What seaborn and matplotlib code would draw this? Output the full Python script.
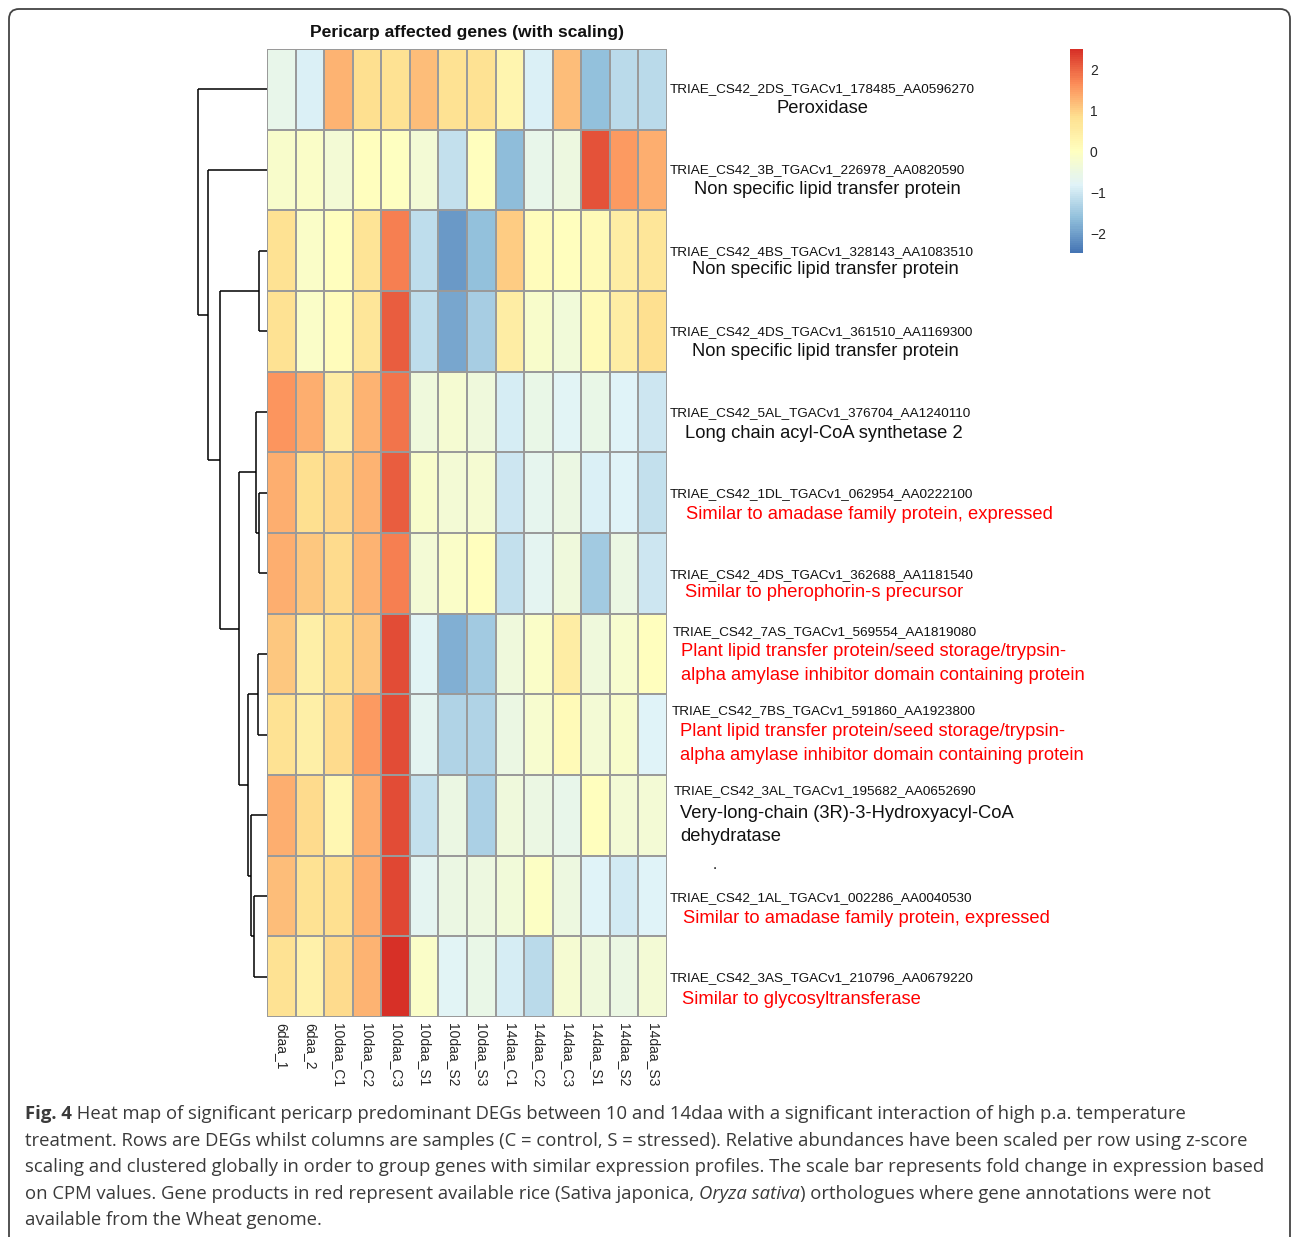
import numpy as np
import pandas as pd
import matplotlib
matplotlib.use("Agg")
import matplotlib.pyplot as plt
import seaborn as sns
from matplotlib.colors import LinearSegmentedColormap
from matplotlib.patches import FancyBboxPatch
from matplotlib.transforms import IdentityTransform

# ---------------- data ----------------
samples = ["6daa_1", "6daa_2", "10daa_C1", "10daa_C2", "10daa_C3", "10daa_S1", "10daa_S2",
           "10daa_S3", "14daa_C1", "14daa_C2", "14daa_C3", "14daa_S1", "14daa_S2", "14daa_S3"]

gene_ids = [
    "TRIAE_CS42_2DS_TGACv1_178485_AA0596270",
    "TRIAE_CS42_3B_TGACv1_226978_AA0820590",
    "TRIAE_CS42_4BS_TGACv1_328143_AA1083510",
    "TRIAE_CS42_4DS_TGACv1_361510_AA1169300",
    "TRIAE_CS42_5AL_TGACv1_376704_AA1240110",
    "TRIAE_CS42_1DL_TGACv1_062954_AA0222100",
    "TRIAE_CS42_4DS_TGACv1_362688_AA1181540",
    "TRIAE_CS42_7AS_TGACv1_569554_AA1819080",
    "TRIAE_CS42_7BS_TGACv1_591860_AA1923800",
    "TRIAE_CS42_3AL_TGACv1_195682_AA0652690",
    "TRIAE_CS42_1AL_TGACv1_002286_AA0040530",
    "TRIAE_CS42_3AS_TGACv1_210796_AA0679220",
]

products = [
    ["Peroxidase"],
    ["Non specific lipid transfer protein"],
    ["Non specific lipid transfer protein"],
    ["Non specific lipid transfer protein"],
    ["Long chain acyl-CoA synthetase 2"],
    ["Similar to amadase family protein, expressed"],
    ["Similar to pherophorin-s precursor"],
    ["Plant lipid transfer protein/seed storage/trypsin-", "alpha amylase inhibitor domain containing protein"],
    ["Plant lipid transfer protein/seed storage/trypsin-", "alpha amylase inhibitor domain containing protein"],
    ["Very-long-chain (3R)-3-Hydroxyacyl-CoA", "dehydratase"],
    ["Similar to amadase family protein, expressed"],
    ["Similar to glycosyltransferase"],
]
rice_ortholog = [False, False, False, False, False, True, True, True, True, False, True, True]

z_scores = [
    [-0.6, -0.85, 1.3, 0.85, 0.8, 1.2, 0.8, 0.8, 0.3, -0.85, 1.2, -1.6, -1.2, -1.2],
    [-0.15, -0.1, -0.3, 0.05, 0.0, -0.3, -1.1, 0.05, -1.65, -0.6, -0.45, 2.2, 1.55, 1.35],
    [0.8, -0.1, 0.05, 0.75, 1.8, -1.15, -2.05, -1.6, 1.05, 0.1, 0.05, 0.15, 0.5, 0.7],
    [0.8, -0.1, 0.1, 0.7, 2.1, -1.15, -1.9, -1.4, 0.5, -0.15, -0.35, 0.15, 0.5, 0.85],
    [1.6, 1.35, 0.5, 1.3, 1.9, -0.4, -0.25, -0.4, -0.9, -0.55, -0.75, -0.55, -0.8, -1.0],
    [1.35, 0.85, 0.95, 1.3, 2.1, -0.15, -0.3, -0.25, -1.0, -0.65, -0.5, -0.85, -0.8, -1.1],
    [1.35, 1.1, 0.9, 1.3, 1.8, -0.3, -0.1, 0.05, -1.1, -0.7, -0.4, -1.45, -0.5, -1.0],
    [1.1, 0.45, 0.85, 1.1, 2.25, -0.75, -1.8, -1.45, -0.4, -0.1, 0.5, -0.4, -0.2, 0.05],
    [0.8, 0.45, 0.9, 1.55, 2.25, -0.7, -1.3, -1.3, -0.5, -0.2, 0.15, -0.3, -0.15, -0.8],
    [1.35, 0.9, 0.25, 1.35, 2.25, -1.1, -0.5, -1.35, -0.4, -0.5, -0.6, 0.05, -0.3, -0.3],
    [1.2, 0.8, 0.85, 1.35, 2.3, -0.7, -0.5, -0.45, -0.35, -0.05, -0.45, -0.8, -0.95, -0.8],
    [0.8, 0.4, 0.9, 1.3, 2.5, -0.1, -0.75, -0.55, -0.9, -1.2, -0.25, -0.4, -0.5, -0.3],
]

# row clustering: (child_a, child_b, merge distance); leaves 0..11, clusters numbered 12+
row_merges = [
    (5, 6, 8.5),     # 12
    (2, 3, 8.0),     # 13
    (7, 8, 9.5),     # 14
    (4, 12, 11.0),   # 15
    (10, 11, 13.0),  # 16
    (9, 16, 16.0),   # 17
    (14, 17, 19.0),  # 18
    (15, 18, 28.0),  # 19
    (13, 19, 47.0),  # 20
    (1, 20, 59.0),   # 21
    (0, 21, 69.0),   # 22
]

scale_ticks = [-2, -1, 0, 1, 2]
scale_min, scale_max = -2.48, 2.51

title = "Pericarp affected genes (with scaling)"
caption_lines = [
    [("Fig. 4", "bold", "normal"),
     (" Heat map of significant pericarp predominant DEGs between 10 and 14daa with a significant interaction of high p.a. temperature", "normal", "normal")],
    [("treatment. Rows are DEGs whilst columns are samples (C = control, S = stressed). Relative abundances have been scaled per row using z-score", "normal", "normal")],
    [("scaling and clustered globally in order to group genes with similar expression profiles. The scale bar represents fold change in expression based", "normal", "normal")],
    [("on CPM values. Gene products in red represent available rice (Sativa japonica, ", "normal", "normal"),
     ("Oryza sativa", "normal", "italic"),
     (") orthologues where gene annotations were not", "normal", "normal")],
    [("available from the Wheat genome.", "normal", "normal")],
]

# ---------------- style ----------------
sns.set_theme(style="white")
plt.rcParams["font.family"] = ["Liberation Sans", "DejaVu Sans"]

W, H = 1292, 1237
fig = plt.figure(figsize=(W / 100, H / 100), dpi=100)
fig.patch.set_facecolor("white")


def box(x0, y0, x1, y1):
    return [x0 / W, 1 - y1 / H, (x1 - x0) / W, (y1 - y0) / H]


ax = fig.add_axes(box(267, 49, 667, 1017))
cax = fig.add_axes(box(1070, 49, 1083, 253))
dax = fig.add_axes(box(198, 49, 267, 1017))

cmap = LinearSegmentedColormap.from_list(
    "rdylbu_r7",
    ["#4575B4", "#91BFDB", "#E0F3F8", "#FFFFBF", "#FEE090", "#FC8D59", "#D73027"], N=100)

df = pd.DataFrame(z_scores, index=gene_ids, columns=samples)
sns.heatmap(df, ax=ax, cmap=cmap, vmin=scale_min, vmax=scale_max,
            linewidths=1.2, linecolor="#9a9a9a", cbar_ax=cax,
            xticklabels=True, yticklabels=False)

ax.tick_params(axis="x", length=0, pad=4)
ax.set_xticklabels(samples, rotation=270, ha="center", va="top", fontsize=10)
ax.set_xlabel("")
ax.set_ylabel("")

cb = ax.collections[0].colorbar
cb.outline.set_visible(False)
cb.set_ticks(scale_ticks)
cb.set_ticklabels(["\u2212" + str(abs(t)) if t < 0 else str(t) for t in scale_ticks])
cax.tick_params(length=0, pad=5, labelsize=10)

# ---------------- dendrogram ----------------
n = len(gene_ids)
pos_y = {i: i + 0.5 for i in range(n)}
pos_h = {i: 0.0 for i in range(n)}
for k, (a, b, h) in enumerate(row_merges):
    cid = n + k
    for c in (a, b):
        dax.plot([pos_h[c], h], [pos_y[c], pos_y[c]], color="black", lw=1.1,
                 solid_capstyle="butt", clip_on=False)
    dax.plot([h, h], [pos_y[a], pos_y[b]], color="black", lw=1.1,
             solid_capstyle="butt", clip_on=False)
    pos_y[cid] = (pos_y[a] + pos_y[b]) / 2
    pos_h[cid] = h
dax.set_xlim(max(h for _, _, h in row_merges), 0)
dax.set_ylim(n, 0)
dax.axis("off")

# ---------------- title ----------------
fig.text(467 / W, 1 - 33 / H, title, ha="center", va="center",
         fontsize=12.6, fontweight="bold", color="#111111")

# ---------------- row annotations ----------------
# (id x offset px, id y offset px, product x offset px or ("c", centre offset), product y offset px)
row_layout = [
    (3, 0, ("c", 156), 19), (3, 0, 27, 19), (3, 1, 25, 19), (3, 1, 25, 20),
    (3, 1, 18, 21), (3, 1, 19, 22), (3, 2, 18, 19), (6, -22, 14, -2),
    (5, -24, 13, -3), (7, -24, 13, -2), (3, 2, 16, 23), (3, 1, 15, 23),
]
for i in range(n):
    idx, idy, pdx, pdy = row_layout[i]
    ax.annotate(gene_ids[i], xy=(14, i + 0.5), xycoords="data",
                xytext=(idx, -idy), textcoords="offset pixels",
                ha="left", va="center", fontsize=9.7, color="#111111",
                annotation_clip=False)
    col = "#FF0000" if rice_ortholog[i] else "#111111"
    for j, line in enumerate(products[i]):
        if isinstance(pdx, tuple):
            ha, dx = "center", pdx[1]
        else:
            ha, dx = "left", pdx
        ax.annotate(line, xy=(14, i + 0.5), xycoords="data",
                    xytext=(dx, -(pdy + 23.5 * j)), textcoords="offset pixels",
                    ha=ha, va="center", fontsize=13.2, color=col,
                    annotation_clip=False)
    if i == 9:
        ax.annotate(".", xy=(14, i + 0.5), xycoords="data",
                    xytext=(46, -50), textcoords="offset pixels",
                    ha="left", va="center", fontsize=11, color="#111111",
                    annotation_clip=False)

# ---------------- caption ----------------
cap_font = ["Open Sans", "DejaVu Sans"]
fig.canvas.draw()
rend = fig.canvas.get_renderer()
probe = fig.text(0, 0, caption_lines[2][0][0], fontsize=12, family=cap_font)
pw = probe.get_window_extent(renderer=rend).width
probe.remove()
cap_size = 12 * (1256 - 25) / pw

y_lines = [1114, 1141, 1167.5, 1194, 1220]
for line, yl in zip(caption_lines, y_lines):
    x = 25
    for txt, weight, style in line:
        t = fig.text(x / W, 1 - yl / H, txt, ha="left", va="center",
                     fontsize=cap_size, family=cap_font, fontweight=weight,
                     fontstyle=style, color="#3a3a3a")
        x = t.get_window_extent(renderer=rend).x1

# ---------------- frame ----------------
frame = FancyBboxPatch((9, -30), 1290 - 9, (H - 9) + 30,
                       boxstyle="round,pad=0,rounding_size=10",
                       transform=IdentityTransform(), fill=False,
                       edgecolor="#444444", linewidth=1.3)
fig.add_artist(frame)

fig.savefig("out.png", dpi=100, facecolor="white")
